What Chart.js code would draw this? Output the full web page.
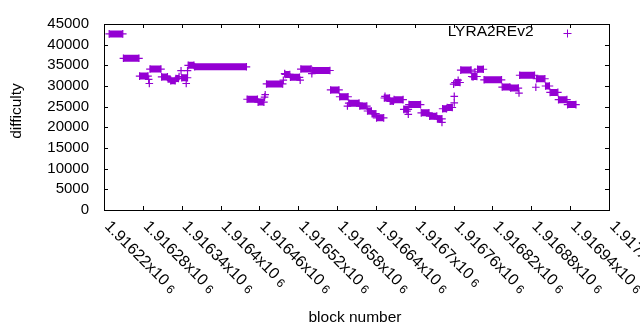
<!DOCTYPE html>
<html>
<head>
<meta charset="utf-8">
<script src="https://cdn.jsdelivr.net/npm/chart.js"></script>
<style>
  html, body { margin: 0; padding: 0; background: #fff; }
  #wrap { width: 640px; height: 330px; }
</style>
</head>
<body>
<div id="wrap"><canvas id="chart"></canvas></div>
<script>
// runs of equal difficulty: first block, last block, difficulty
const runStart = [1916228, 1916250, 1916275, 1916289, 1916290, 1916291, 1916309, 1916319, 1916323, 1916331,
  1916336, 1916339, 1916340, 1916347, 1916349, 1916350, 1916360, 1916441, 1916458, 1916468,
  1916469, 1916471, 1916497, 1916499, 1916500, 1916508, 1916523, 1916524, 1916541, 1916542,
  1916570, 1916584, 1916596, 1916598, 1916615, 1916627, 1916634, 1916641, 1916654, 1916653,
  1916662, 1916668, 1916683, 1916688, 1916690, 1916691, 1916710, 1916723, 1916735, 1916742,
  1916743, 1916750, 1916761, 1916761, 1916760, 1916762, 1916767, 1916771, 1916790, 1916788,
  1916793, 1916797, 1916807, 1916835, 1916848, 1916861, 1916862, 1916887, 1916888, 1916902,
  1916909, 1916922, 1916936];
const runEnd = [1916249, 1916274, 1916288, 1916289, 1916290, 1916308, 1916318, 1916322, 1916330, 1916335,
  1916336, 1916339, 1916349, 1916347, 1916349, 1916359, 1916440, 1916457, 1916467, 1916468,
  1916469, 1916496, 1916497, 1916499, 1916507, 1916522, 1916523, 1916540, 1916541, 1916569,
  1916583, 1916597, 1916596, 1916614, 1916626, 1916633, 1916640, 1916652, 1916654, 1916661,
  1916667, 1916682, 1916690, 1916688, 1916690, 1916709, 1916722, 1916734, 1916742, 1916742,
  1916749, 1916758, 1916761, 1916761, 1916760, 1916770, 1916767, 1916787, 1916790, 1916796,
  1916793, 1916806, 1916834, 1916847, 1916860, 1916861, 1916885, 1916887, 1916901, 1916908,
  1916921, 1916935, 1916949];
const runDiff = [42600, 36700, 32400, 31600, 30600, 34100, 32200, 31700, 31300, 31800,
  32300, 33700, 32000, 30600, 33700, 35000, 34650, 26800, 26100, 27300,
  27900, 30500, 31400, 33000, 32800, 32100, 31400, 34100, 33000, 33750,
  29050, 27400, 25150, 25850, 25150, 23950, 23300, 22300, 27500, 27100,
  26300, 26700, 24350, 23900, 23150, 25500, 23500, 22700, 22050, 21200,
  24500, 24800, 25900, 27500, 30450, 30850, 31400, 33850, 32200, 32300,
  33400, 34050, 31500, 29750, 29500, 28300, 32600, 29700, 31750, 30000,
  28450, 26700, 25500];

const xTicks = [1916220, 1916280, 1916340, 1916400, 1916460, 1916520, 1916580,
  1916640, 1916700, 1916760, 1916820, 1916880, 1916940, 1917000];
const xTickLabels = ['1.91622', '1.91628', '1.91634', '1.9164', '1.91646', '1.91652', '1.91658',
  '1.91664', '1.9167', '1.91676', '1.91682', '1.91688', '1.91694', '1.917'];
const yTicks = [0, 5000, 10000, 15000, 20000, 25000, 30000, 35000, 40000, 45000];

const COLOR = '#9400d3';
const FONT = '"Liberation Sans", Arial, sans-serif';

// each run is a short thick line with a "+" at both ends; null breaks the line
const points = [];
runStart.forEach((s, i) => {
  points.push({ x: s, y: runDiff[i] });
  if (runEnd[i] !== s) points.push({ x: runEnd[i], y: runDiff[i] });
  points.push({ x: runEnd[i], y: null });
});

const frame = {
  id: 'frame',
  afterDraw(chart) {
    const { ctx, chartArea: a, scales: { x, y } } = chart;
    ctx.save();
    ctx.strokeStyle = '#000';
    ctx.lineWidth = 1;
    ctx.strokeRect(a.left + 0.5, a.top + 0.5, a.right - a.left, a.bottom - a.top);

    ctx.beginPath();
    xTicks.forEach(v => {
      const px = Math.round(x.getPixelForValue(v)) + 0.5;
      ctx.moveTo(px, a.bottom); ctx.lineTo(px, a.bottom - 4);
      ctx.moveTo(px, a.top); ctx.lineTo(px, a.top + 4);
    });
    yTicks.forEach(v => {
      const py = Math.round(y.getPixelForValue(v)) + 0.5;
      ctx.moveTo(a.left, py); ctx.lineTo(a.left + 4, py);
      ctx.moveTo(a.right, py); ctx.lineTo(a.right - 4, py);
    });
    ctx.stroke();

    // rotated x tick labels, mantissa x10^6
    ctx.fillStyle = '#000';
    ctx.textAlign = 'left';
    ctx.textBaseline = 'middle';
    xTicks.forEach((v, i) => {
      const px = x.getPixelForValue(v);
      ctx.save();
      ctx.translate(px + 3, a.bottom + 14);
      ctx.rotate(Math.PI / 4);
      ctx.font = '16px ' + FONT;
      const main = xTickLabels[i] + 'x10';
      ctx.fillText(main, 0, 0);
      const w = ctx.measureText(main).width;
      ctx.font = '12px ' + FONT;
      ctx.fillText('6', w + 4, 2);
      ctx.restore();
    });

    // axis titles
    ctx.font = '15.5px ' + FONT;
    ctx.textAlign = 'center';
    ctx.textBaseline = 'alphabetic';
    ctx.fillText('block number', 355, 321.5);
    ctx.save();
    ctx.translate(17, 111);
    ctx.rotate(-Math.PI / 2);
    ctx.textBaseline = 'middle';
    ctx.fillText('difficulty', 0, 0);
    ctx.restore();

    // key
    ctx.textAlign = 'right';
    ctx.textBaseline = 'middle';
    ctx.font = '15.5px ' + FONT;
    ctx.fillText('LYRA2REv2', 533.5, 32);
    ctx.strokeStyle = COLOR;
    ctx.beginPath();
    ctx.moveTo(563.5, 33.5); ctx.lineTo(571.5, 33.5);
    ctx.moveTo(567.5, 29.5); ctx.lineTo(567.5, 37.5);
    ctx.stroke();
    ctx.restore();
  }
};

new Chart(document.getElementById('chart'), {
  type: 'scatter',
  data: {
    datasets: [{
      label: 'LYRA2REv2',
      data: points,
      showLine: true,
      spanGaps: false,
      borderColor: COLOR,
      backgroundColor: COLOR,
      borderWidth: 7,
      borderCapStyle: 'butt',
      pointStyle: 'cross',
      pointRadius: 3.8,
      pointBorderWidth: 1.2,
      pointBorderColor: COLOR,
      pointHoverRadius: 3.8
    }]
  },
  options: {
    responsive: true,
    maintainAspectRatio: false,
    animation: false,
    layout: { padding: { top: 19, right: 31, left: 0, bottom: 0 } },
    plugins: { legend: { display: false }, tooltip: { enabled: false } },
    scales: {
      x: {
        type: 'linear',
        min: 1916220,
        max: 1917000,
        afterBuildTicks: s => { s.ticks = xTicks.map(v => ({ value: v })); },
        afterFit: s => { s.height = 120; },
        grid: { display: false, drawTicks: false },
        border: { display: false },
        ticks: { display: false }
      },
      y: {
        min: 0,
        max: 45000,
        afterBuildTicks: s => { s.ticks = yTicks.map(v => ({ value: v })); },
        afterFit: s => { s.width = 104; },
        grid: { display: false, drawTicks: false },
        border: { display: false },
        ticks: {
          autoSkip: false,
          padding: 15,
          color: '#000',
          font: { family: FONT, size: 15 },
          callback: v => String(v)
        }
      }
    }
  },
  plugins: [frame]
});
</script>
</body>
</html>
